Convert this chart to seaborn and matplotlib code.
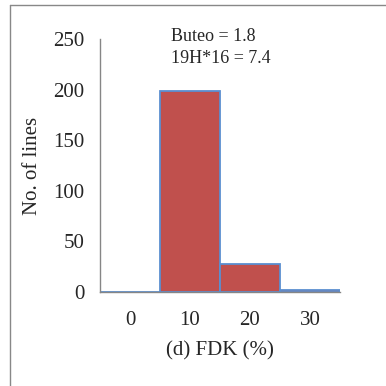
import matplotlib
matplotlib.use("Agg")
import matplotlib.pyplot as plt
import seaborn as sns
import pandas as pd
from matplotlib.lines import Line2D

categories = ["0", "10", "20", "30"]
counts = [0, 199, 27, 2]
notes = ["Buteo = 1.8", "19H*16 = 7.4"]

sns.set_style("white")
plt.rcParams["font.family"] = ["Liberation Serif", "DejaVu Serif"]

W = H = 386
fig = plt.figure(figsize=(3.86, 3.86), dpi=100)
ax = fig.add_axes([100/W, 1-291.7/H, 240/W, 252.4/H])

df = pd.DataFrame({"cat": categories, "n": counts})
sns.barplot(data=df, x="cat", y="n", ax=ax, width=1.0, color="#C0504D",
            saturation=1, edgecolor="#5B8FD0", linewidth=1.3)

ax.set_xlim(-0.5, 3.5)
ax.set_ylim(0, 250)
ax.set_yticks([0, 50, 100, 150, 200, 250])
ax.set_xticks([-0.5, 0.5, 1.5, 2.5, 3.5])
ax.set_xticklabels([])
ax.set_xticks(range(len(categories)), minor=True)
ax.set_xticklabels(categories, minor=True)
ax.tick_params(axis="x", which="major", length=4, width=1, color="#868686", direction="out")
ax.tick_params(axis="x", which="minor", length=0, labelsize=15, pad=14)
ax.tick_params(axis="y", length=4, width=1, color="#868686", direction="out", labelsize=15, pad=7)
for s in ["top", "right"]:
    ax.spines[s].set_visible(False)
for s in ["left", "bottom"]:
    ax.spines[s].set_color("#868686")
    ax.spines[s].set_linewidth(1)
ax.set_xlabel("(d) FDK (%)", fontsize=15, labelpad=8)
ax.set_ylabel("No. of lines", fontsize=15, labelpad=8)
ax.set_facecolor("none")

fig.text(171/W, 1-36.7/H, notes[0], fontsize=13, va="center", ha="left")
fig.text(171/W, 1-58.3/H, notes[1], fontsize=13, va="center", ha="left")

fig.add_artist(Line2D([10/W, 10/W], [0, 1-5/H], color="#888888", lw=1, transform=fig.transFigure))
fig.add_artist(Line2D([10/W, 1], [1-5/H, 1-5/H], color="#888888", lw=1, transform=fig.transFigure))

fig.savefig("out.png", dpi=100, facecolor="white")
